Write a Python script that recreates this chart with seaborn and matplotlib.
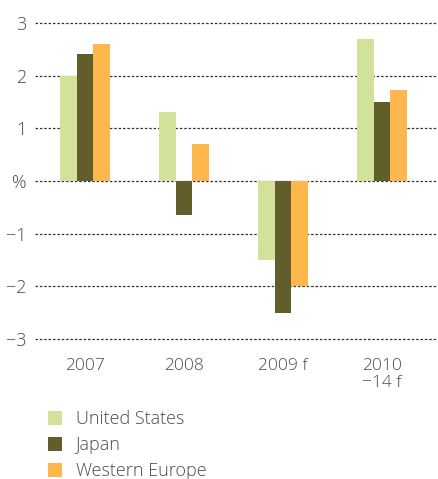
import matplotlib.pyplot as plt
import seaborn as sns
import pandas as pd
from matplotlib.patches import Patch

# data
periods = ['2007', '2008', '2009 f', '2010\n\u221214 f']
regions = ['United States', 'Japan', 'Western Europe']
us = [2.0, 1.3, -1.5, 2.7]
japan = [2.4, -0.65, -2.5, 1.5]
w_europe = [2.6, 0.7, -2.0, 1.73]
y_ticks = [3, 2, 1, 0, -1, -2, -3]
y_labels = ['3', '2', '1', '%', '\u22121', '\u22122', '\u22123']
colors = ['#d3e29b', '#615e2c', '#fdb74c']

df = pd.DataFrame({
    'period': periods * 3,
    'region': [r for r in regions for _ in periods],
    'value': us + japan + w_europe,
})

sns.set_style('white')
plt.rcParams['font.family'] = ['Open Sans', 'DejaVu Sans']
plt.rcParams['font.weight'] = 'light'
text_col = '#4a4a4a'

fig = plt.figure(figsize=(4.39, 4.79), dpi=100)
ax = fig.add_axes([0.0797, 0.2812, 0.9203, 0.6931])

sns.barplot(data=df, x='period', y='value', hue='region', order=periods,
            hue_order=regions, palette=colors, width=0.5, saturation=1,
            linewidth=0, ax=ax, legend=False)

ax.set_ylim(-3.1, 3.2)
ax.set_xlim(-0.505, 3.576)
ax.set_yticks(y_ticks)
ax.set_yticklabels(y_labels)
ax.set_axisbelow(True)
ax.yaxis.grid(True, linestyle=(0, (2, 1.5)), color='#333333', linewidth=0.9)
ax.xaxis.grid(False)
for s in ax.spines.values():
    s.set_visible(False)
ax.set_xlabel('')
ax.set_ylabel('')
ax.tick_params(axis='y', length=0, pad=6, labelsize=13, labelcolor=text_col)
ax.tick_params(axis='x', length=0, pad=10, labelsize=12.5, labelcolor=text_col)
for t in ax.get_xticklabels():
    t.set_verticalalignment('top')
    t.set_linespacing(1.1)

handles = [Patch(facecolor=c, edgecolor='none') for c in colors]
leg = fig.legend(handles, regions, loc='upper left', bbox_to_anchor=(0.092, 0.159),
                 frameon=False, handlelength=0.8, handleheight=0.8,
                 handletextpad=0.75, labelspacing=0.45, fontsize=13, borderaxespad=0)
for t in leg.get_texts():
    t.set_color(text_col)

fig.savefig('out.png', dpi=100)
